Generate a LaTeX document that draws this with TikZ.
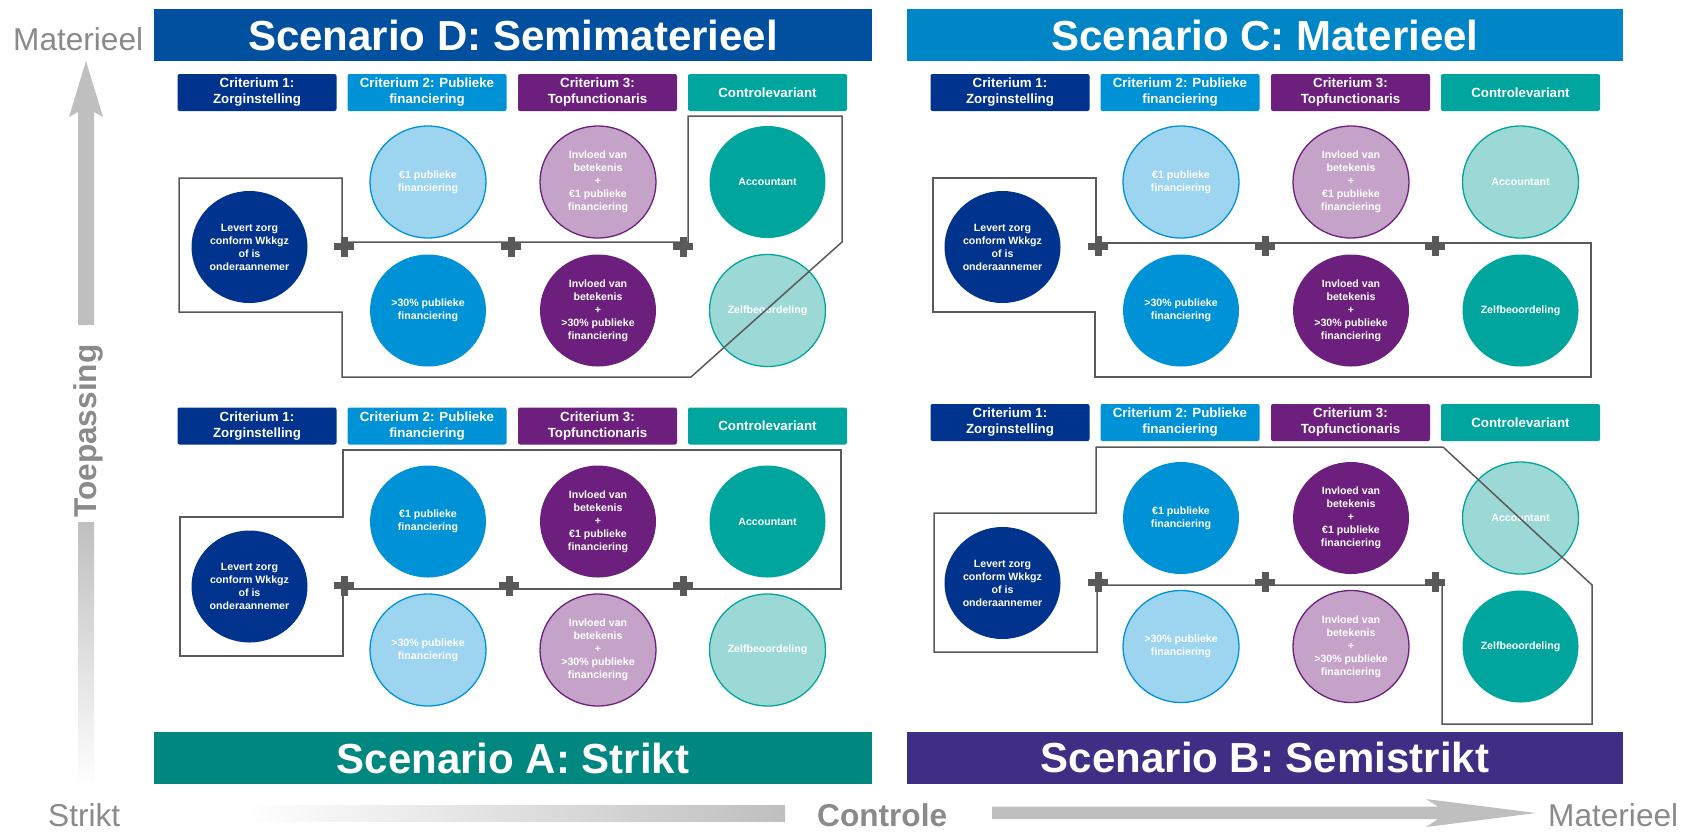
\documentclass[tikz,border=0pt]{standalone}
\usepackage{fontspec}
\setmainfont{Liberation Sans}
\usepackage{xcolor}
\usepackage{tikz}
\usetikzlibrary{shapes.geometric}
\definecolor{navy}{HTML}{00338D}
\definecolor{blauw}{HTML}{0092D6}
\definecolor{lichtblauw}{HTML}{9DD4F0}
\definecolor{paars}{HTML}{6C1F7D}
\definecolor{lichtpaars}{HTML}{C5A3C9}
\definecolor{groen}{HTML}{00A59D}
\definecolor{lichtgroen}{HTML}{9CD9D6}
\definecolor{titelD}{HTML}{00509F}
\definecolor{titelC}{HTML}{0085C6}
\definecolor{titelA}{HTML}{00877F}
\definecolor{titelB}{HTML}{3E2F84}
\definecolor{asgrijs}{HTML}{BFBFBF}
\definecolor{tekstgrijs}{HTML}{8A8A8A}
\definecolor{lijn}{HTML}{595959}
\tikzstyle{titel} = [rectangle, minimum height=52pt, inner sep=0pt, text=white,
font=\bfseries\fontsize{42}{50}\selectfont]
\tikzstyle{kop} = [rectangle, rounded corners=2pt, minimum width=159pt, minimum height=37pt,
inner sep=0pt, text=white, align=center, font=\bfseries\fontsize{13.3}{16}\selectfont]
\tikzstyle{bol} = [ellipse, minimum width=116pt, minimum height=112pt, inner sep=0pt,
line width=1.3pt, text=white, align=center, font=\bfseries\fontsize{10.6}{13}\selectfont]
\tikzstyle{blauwvol} = [fill=blauw]
\tikzstyle{blauwlicht} = [fill=lichtblauw, draw=blauw]
\tikzstyle{paarsvol} = [fill=paars]
\tikzstyle{paarslicht} = [fill=lichtpaars, draw=paars]
\tikzstyle{groenvol} = [fill=groen]
\tikzstyle{groenlicht} = [fill=lichtgroen, draw=groen]
\tikzstyle{rand} = [draw=lijn, line width=1.5pt]
\tikzstyle{plusje} = [draw=lijn, line width=7pt]
\tikzstyle{aslabel} = [text=tekstgrijs, inner sep=0pt, font=\fontsize{31.6}{36}\selectfont]
\tikzstyle{asvet} = [aslabel, font=\bfseries\fontsize{31.6}{36}\selectfont]
% #1 naam, #2 x, #3 y kopjes, #4 y bovenste bollen, #5-#6 kolom 2 en 3, #7-#8 kolom 4
\newcommand{\paneel}[8]{%
  \node[kop, fill=navy] (#1-k1) at (#2+257, #3) {Criterium 1:\\Zorginstelling};
  \node[kop, fill=blauw] (#1-k2) at (#2+427, #3) {Criterium 2: Publieke\\financiering};
  \node[kop, fill=paars] (#1-k3) at (#2+597.5, #3) {Criterium 3:\\Topfunctionaris};
  \node[kop, fill=groen] (#1-k4) at (#2+767.5, #3) {Controlevariant};
  \node[bol, fill=navy] (#1-zorg) at (#2+249.5, #4+65) {Levert zorg\\conform Wkkgz\\of is\\onderaannemer};
  \node[bol, blauw#5] (#1-euro) at (#2+428, #4) {€1 publieke\\financiering};
  \node[bol, blauw#6] (#1-dertig) at (#2+428, #4+128.5) {>30\% publieke\\financiering};
  \node[bol, paars#5] (#1-invloedeuro) at (#2+598, #4) {Invloed van\\betekenis\\+\\€1 publieke\\financiering};
  \node[bol, paars#6] (#1-invloeddertig) at (#2+598, #4+128.5) {Invloed van\\betekenis\\+\\>30\% publieke\\financiering};
  \node[bol, groen#7] (#1-accountant) at (#2+767.5, #4) {Accountant};
  \node[bol, groen#8] (#1-zelf) at (#2+767.5, #4+128.5) {Zelfbeoordeling};
}
\newcommand{\plusteken}[2]{\draw[plusje] (#1-10,#2) -- (#1+10,#2) (#1,#2-10) -- (#1,#2+10);}

\begin{document}
\begin{tikzpicture}[x=1pt, y=-1pt]
\useasboundingbox (0,0) rectangle (1691,831);

\fill[asgrijs] (78,325) -- (78,112) -- (69,117) -- (86,61) -- (103,117) -- (94,112) -- (94,325) -- cycle;
\shade[top color=asgrijs, bottom color=white] (78,522) rectangle (94,787);
\shade[left color=white, right color=asgrijs] (245,805) rectangle (785,821);
\fill[asgrijs] (992,806.5) -- (1438,806.5) -- (1426,799) -- (1536,813) -- (1426,827) -- (1438,819) -- (992,819) -- cycle;

\node[aslabel, anchor=base west] (materieelboven) at (13,50) {Materieel};
\node[asvet, anchor=base west, rotate=90] (toepassing) at (96.7,518) {Toepassing};
\node[aslabel, anchor=base west] (strikt) at (48,826) {Strikt};
\node[asvet, anchor=base west] (controle) at (817,826) {Controle};
\node[aslabel, anchor=base west] (materieelrechts) at (1548,826) {Materieel};

\node[titel, fill=titelD, minimum width=718pt] (scenarioD) at (513,35) {Scenario D: Semimaterieel};
\node[titel, fill=titelC, minimum width=716pt] (scenarioC) at (1265,35) {Scenario C: Materieel};
\node[titel, fill=titelA, minimum width=718pt] (scenarioA) at (513,758) {Scenario A: Strikt};
\node[titel, fill=titelB, minimum width=716pt] (scenarioB) at (1265,757.5) {Scenario B: Semistrikt};

\paneel{D}{0}{92.5}{182}{licht}{vol}{vol}{licht}
\paneel{C}{753}{92.5}{182}{licht}{vol}{licht}{vol}
\paneel{A}{0}{426}{521.5}{vol}{licht}{vol}{licht}
\paneel{B}{753}{422.5}{518}{vol}{licht}{licht}{vol}

\draw[rand] (179,178) -- (342,178) -- (342,242) -- (688,242) -- (688,116) -- (842,116) -- (842,242)
  -- (691,377) -- (342,377) -- (342,312) -- (179,312) -- cycle;
\draw[rand] (933,178) -- (1096,178) -- (1096,243) -- (1591,243) -- (1591,377) -- (1095,377)
  -- (1095,312) -- (933,312) -- cycle;
\draw[rand] (343,450) -- (841,450) -- (841,589) -- (343,589) -- (343,656) -- (180,656)
  -- (180,517) -- (343,517) -- cycle;
\draw[rand] (1096,447) -- (1443,447) -- (1592,585) -- (1592,724) -- (1442,724) -- (1442,585)
  -- (1097,585) -- (1097,652) -- (934,652) -- (934,513) -- (1096,513) -- cycle;

\plusteken{344}{246.7} \plusteken{511}{246.7} \plusteken{683}{246.7}
\plusteken{1098}{246} \plusteken{1265}{246} \plusteken{1435}{246}
\plusteken{344}{585.7} \plusteken{509}{585.7} \plusteken{683}{585.7}
\plusteken{1098}{582} \plusteken{1265}{582} \plusteken{1435}{582}
\end{tikzpicture}
\end{document}
